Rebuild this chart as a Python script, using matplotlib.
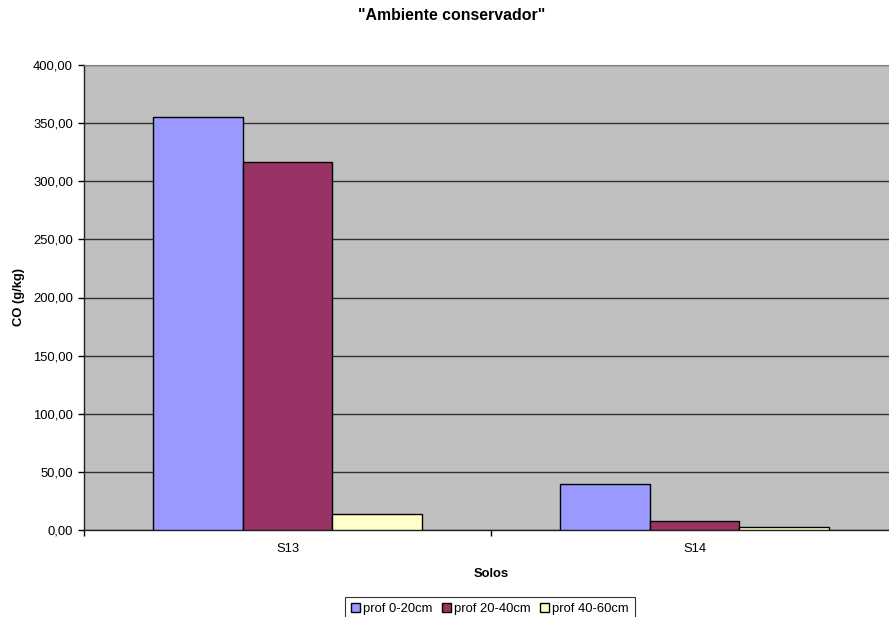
import numpy as np
import matplotlib.pyplot as plt
from matplotlib.ticker import FuncFormatter

plt.rcParams['font.family'] = ['Liberation Sans', 'DejaVu Sans']

solos = ['S13', 'S14']
series = ['prof 0-20cm', 'prof 20-40cm', 'prof 40-60cm']
prof_0_20 = [355.0, 39.3]
prof_20_40 = [316.8, 7.5]
prof_40_60 = [13.9, 2.9]
colors = ['#9999FF', '#993366', '#FFFFCC']

fig = plt.figure(figsize=(8.89, 6.17), dpi=100)
W, H = 889, 617
# plot area runs past the right edge of the image, like the original
ax = fig.add_axes([84 / W, 1 - 530 / H, (898 - 84) / W, (530 - 65) / H])
ax.set_facecolor('#C0C0C0')

x = np.arange(len(solos))
w = 0.221
for i, (vals, c, lab) in enumerate(zip([prof_0_20, prof_20_40, prof_40_60], colors, series)):
    ax.bar(x + (i - 1) * w, vals, w, color=c, edgecolor='black', linewidth=1.0,
           label=lab, zorder=3)

ax.set_xlim(-0.5, 1.5)
ax.set_ylim(0, 400)
ax.set_yticks(np.arange(0, 401, 50))
ax.yaxis.set_major_formatter(FuncFormatter(lambda v, p: f'{v:.2f}'.replace('.', ',')))
ax.grid(axis='y', color='#303030', linewidth=1.0, zorder=1)
ax.set_axisbelow(True)

fs = 9.4
ax.set_xticks(x)
ax.set_xticklabels(solos)
ax.set_xticks([-0.5, 0.5, 1.5], minor=True)
ax.tick_params(axis='x', which='major', length=0, pad=9, labelsize=fs)
ax.tick_params(axis='x', which='minor', length=4, width=1, direction='out')
ax.tick_params(axis='y', length=4, width=1, direction='out', labelsize=fs, pad=4)

for s in ['left', 'bottom']:
    ax.spines[s].set_color('#202020')
    ax.spines[s].set_linewidth(1.0)
ax.spines['top'].set_color('#808080')
ax.spines['right'].set_visible(False)

ax.set_xlabel('Solos', fontsize=fs, fontweight='bold')
ax.set_ylabel('CO (g/kg)', fontsize=fs, fontweight='bold')
ax.yaxis.set_label_coords(-65 / (898 - 84), 0.5)
ax.xaxis.set_label_coords((491 - 84) / (898 - 84), -(574 - 530) / (530 - 65))
ax.xaxis.label.set_va('center')
ax.yaxis.label.set_va('center')

fig.text(452 / W, 1 - 16 / H, '"Ambiente conservador"', fontsize=11.4,
         fontweight='bold', ha='center', va='center')

leg = fig.legend(loc='upper center', bbox_to_anchor=(490 / W, 1 - 597 / H), ncol=3,
                 fontsize=fs, frameon=True, fancybox=False, edgecolor='black',
                 handlelength=0.65, handleheight=0.65, handletextpad=0.25,
                 columnspacing=0.75, borderpad=0.45, borderaxespad=0)
leg.get_frame().set_linewidth(0.8)

fig.savefig('out.png', dpi=100)
